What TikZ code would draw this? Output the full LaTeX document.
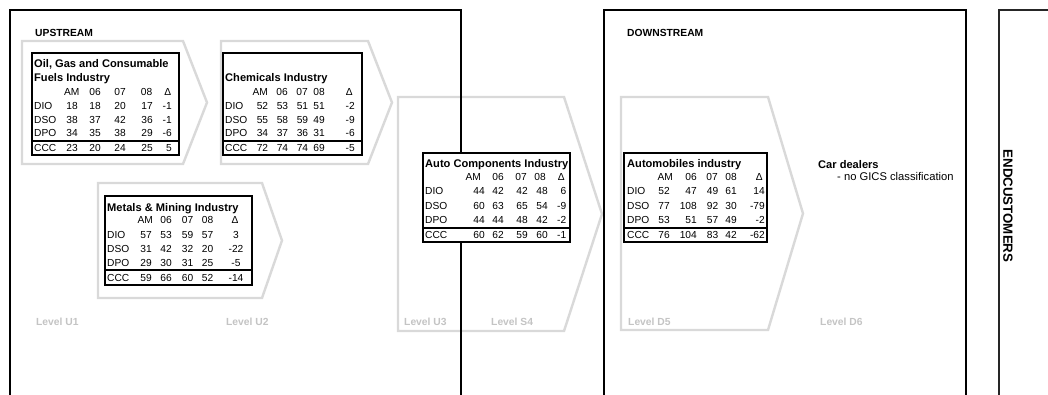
\documentclass[tikz,border=0pt]{standalone}
\usepackage{fontspec}
\setmainfont{Liberation Sans}
\definecolor{chevgray}{RGB}{217,217,217}
\definecolor{lvlgray}{RGB}{196,196,196}
\tikzset{
  frame/.style={line width=2pt, draw=black},
  chev/.style={line width=2.4pt, draw=chevgray, line join=miter},
  tbox/.style={line width=2pt, draw=black, fill=white},
  cell/.style={font=\fontsize{10.2}{11}\selectfont, inner sep=0pt},
  ttl/.style={font=\fontsize{11.1}{12}\selectfont\bfseries, inner sep=0pt, anchor=base west},
  R/.style={anchor=base east},
  C/.style={anchor=base},
  lvl/.style={font=\fontsize{10.3}{12}\selectfont\bfseries, text=lvlgray, anchor=west, inner sep=0pt},
  hdr/.style={font=\fontsize{10.3}{12}\selectfont\bfseries, anchor=west, inner sep=0pt},
}
\newcommand\trow[5]{%
  \node[cell, anchor=base west] (#1) at (#2,#3) {#4};
  \foreach \xx/\vv/\aa [count=\k] in {#5} {\node[cell,\aa] (#1-\k) at (\xx,#3) {\vv};}
}
\newcommand\thead[3]{%
  \foreach \xx/\vv/\aa [count=\k] in {#3} {\node[cell,\aa] (#1-\k) at (\xx,#2) {\vv};}
}
\begin{document}
\begin{tikzpicture}[x=1pt,y=-1pt]
\useasboundingbox (0,0) rectangle (1048,394);
\fill[white] (0,0) rectangle (1048,394);

% chevrons
\draw[chev] (22,41) -- (183,41) -- (207,102.5) -- (183,164) -- (22,164) -- cycle;
\draw[chev] (221,41) -- (368,41) -- (392,102.5) -- (368,164) -- (221,164) -- cycle;
\draw[chev] (98,183) -- (262,183) -- (282,240.5) -- (262,298) -- (98,298) -- cycle;
\draw[chev] (398,97) -- (564,97) -- (602,214) -- (564,331) -- (398,331) -- cycle;
\draw[chev] (621,97) -- (768,97) -- (803,213.5) -- (768,330) -- (621,330) -- cycle;

% frames
\draw[frame] (10,400) -- (10,10) -- (461,10) -- (461,400);
\draw[frame] (604,400) -- (604,10) -- (966,10) -- (966,400);
\draw[frame, draw=black!85] (999,400) -- (999,10) -- (1060,10);

\node[hdr] (up) at (35,32.5) {UPSTREAM};
\node[hdr] (down) at (627,32.5) {DOWNSTREAM};
\node[font=\fontsize{13.3}{15}\selectfont\bfseries, rotate=-90, inner sep=0pt] (endc) at (1008,206) {ENDCUSTOMERS};

% level labels
\node[lvl] (lu1) at (36,322) {Level U1};
\node[lvl] (lu2) at (226,322) {Level U2};
\node[lvl] (lu3) at (404,322) {Level U3};
\node[lvl] (ls4) at (491,322) {Level S4};
\node[lvl] (ld5) at (628,322) {Level D5};
\node[lvl] (ld6) at (820,322) {Level D6};

% car dealers
\node[ttl] (cd) at (818,168) {Car dealers};
\node[font=\fontsize{11.2}{12}\selectfont, inner sep=0pt, anchor=base west] (cdn) at (837,180) {- no GICS classification};

% T1
\draw[tbox] (32,53) rectangle (179,155);
\draw[line width=2pt] (32,140.5) -- (179,140.5);
\node[ttl] (t1a) at (34,67.4) {Oil, Gas and Consumable};
\node[ttl] (t1b) at (34,81.4) {Fuels Industry};
\thead{t1h}{95.5}{79.5/AM/R,101/06/R,126/07/R,152.5/08/R,171.5/Δ/R}
\trow{t1r1}{34}{109}{DIO}{78/18/R,101/18/R,126/20/R,153/17/R,172/-1/R}
\trow{t1r2}{34}{123}{DSO}{78/38/R,101/37/R,126/42/R,153/36/R,172/-1/R}
\trow{t1r3}{34}{136.5}{DPO}{78/34/R,101/35/R,126/38/R,153/29/R,172/-6/R}
\trow{t1r4}{34}{151.5}{CCC}{78/23/R,101/20/R,126/24/R,153/25/R,172/5/R}

% T2
\draw[tbox] (222.5,53) rectangle (361.5,155);
\draw[line width=2pt] (222.5,140.5) -- (361.5,140.5);
\node[ttl] (t2a) at (225,81.4) {Chemicals Industry};
\thead{t2h}{95.5}{268/AM/R,288/06/R,308/07/R,325/08/R,353/Δ/R}
\trow{t2r1}{225}{109}{DIO}{268.3/52/R,288.3/53/R,308.3/51/R,325/51/R,355/-2/R}
\trow{t2r2}{225}{123}{DSO}{268.3/55/R,288.3/58/R,308.3/59/R,325/49/R,355/-9/R}
\trow{t2r3}{225}{136.5}{DPO}{268.3/34/R,288.3/37/R,308.3/36/R,325/31/R,355/-6/R}
\trow{t2r4}{225}{151.5}{CCC}{268.3/72/R,288.3/74/R,308.3/74/R,325/69/R,355/-5/R}

% T3
\draw[tbox] (105,196) rectangle (252,285);
\draw[line width=2pt] (105,270) -- (252,270);
\node[ttl] (t3a) at (107,211) {Metals \& Mining Industry};
\thead{t3h}{223.5}{153/AM/R,172/06/R,193.5/07/R,213.5/08/R,235/Δ/C}
\trow{t3r1}{107}{238.5}{DIO}{152/57/R,172/53/R,193.5/59/R,213.5/57/R,236/3/C}
\trow{t3r2}{107}{252.5}{DSO}{152/31/R,172/42/R,193.5/32/R,213.5/20/R,236/-22/C}
\trow{t3r3}{107}{266.5}{DPO}{152/29/R,172/30/R,193.5/31/R,213.5/25/R,236/-5/C}
\trow{t3r4}{107}{281}{CCC}{152/59/R,172/66/R,193.5/60/R,213.5/52/R,236/-14/C}

% T4
\draw[tbox] (423,153) rectangle (570,242);
\draw[line width=2pt] (423,228) -- (570,228);
\node[ttl] (t4a) at (425,167.4) {Auto Components Industry};
\thead{t4h}{180.5}{481/AM/R,504/06/R,527/07/R,546/08/R,565/Δ/R}
\trow{t4r1}{425}{194.5}{DIO}{485/44/R,504/42/R,528/42/R,548/48/R,566.5/6/R}
\trow{t4r2}{425}{209}{DSO}{485/60/R,504/63/R,528/65/R,548/54/R,566.5/-9/R}
\trow{t4r3}{425}{223}{DPO}{485/44/R,504/44/R,528/48/R,548/42/R,566.5/-2/R}
\trow{t4r4}{425}{238.5}{CCC}{485/60/R,504/62/R,528/59/R,548/60/R,566.5/-1/R}

% T5
\draw[tbox] (624,153) rectangle (767,242);
\draw[line width=2pt] (624,228) -- (767,228);
\node[ttl] (t5a) at (627,167.4) {Automobiles industry};
\thead{t5h}{180.5}{673/AM/R,697/06/R,718/07/R,737/08/R,763/Δ/R}
\trow{t5r1}{627}{194.5}{DIO}{670/52/R,697/47/R,718.5/49/R,737/61/R,765/14/R}
\trow{t5r2}{627}{209}{DSO}{670/77/R,697/108/R,718.5/92/R,737/30/R,765/-79/R}
\trow{t5r3}{627}{223}{DPO}{670/53/R,697/51/R,718.5/57/R,737/49/R,765/-2/R}
\trow{t5r4}{627}{238.5}{CCC}{670/76/R,697/104/R,718.5/83/R,737/42/R,765/-62/R}
\end{tikzpicture}
\end{document}
